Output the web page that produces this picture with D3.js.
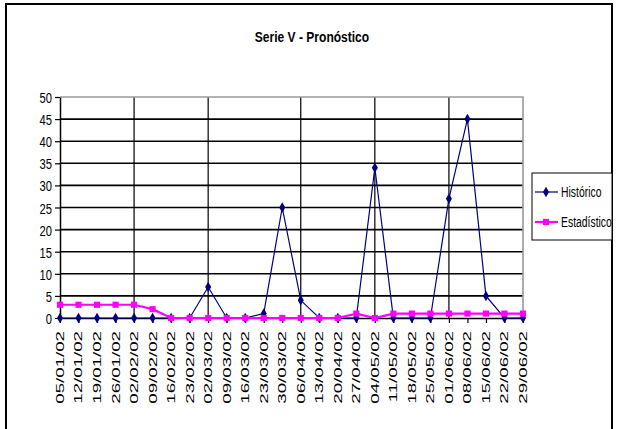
<!DOCTYPE html>
<html>
<head>
<meta charset="utf-8">
<script src="https://cdn.jsdelivr.net/npm/d3@7"></script>
<style>
  html, body { margin: 0; padding: 0; background: #fff; }
  svg { display: block; }
  text { font-family: "Liberation Sans", Arial, sans-serif; fill: #000; }
</style>
</head>
<body>
<svg id="chart" width="617" height="429"></svg>
<script>
// Weekly dates (Saturdays), first half of 2002
const categories = [
  "05/01/02", "12/01/02", "19/01/02", "26/01/02",
  "02/02/02", "09/02/02", "16/02/02", "23/02/02",
  "02/03/02", "09/03/02", "16/03/02", "23/03/02", "30/03/02",
  "06/04/02", "13/04/02", "20/04/02", "27/04/02",
  "04/05/02", "11/05/02", "18/05/02", "25/05/02",
  "01/06/02", "08/06/02", "15/06/02", "22/06/02", "29/06/02"
];

// Observed values
const historico = [
  0, 0, 0, 0,
  0, 0, 0, 0,
  7, 0, 0, 1, 25,
  4, 0, 0, 0,
  34, 0, 0, 0,
  27, 45, 5, 0, 0
];

// Statistical forecast
const estadistico = [
  3, 3, 3, 3,
  3, 2, 0, 0,
  0, 0, 0, 0, 0,
  0, 0, 0, 1,
  0, 1, 1, 1,
  1, 1, 1, 1, 1
];

const yTicks = [0, 5, 10, 15, 20, 25, 30, 35, 40, 45, 50];
const seriesNames = ["Histórico", "Estadístico"];
const seriesColors = ["#000080", "#FF00FF"];

const svg = d3.select("#chart");

// Outer frame
svg.append("rect")
  .attr("x", 6).attr("y", 4)
  .attr("width", 606).attr("height", 440)
  .attr("fill", "none").attr("stroke", "#000").attr("stroke-width", 2);

// Title
svg.append("text")
  .attr("transform", "translate(312,42) scale(0.86,1.08)")
  .attr("text-anchor", "middle")
  .attr("font-size", 14).attr("font-weight", "bold")
  .text("Serie V - Pronóstico");

const plot = { left: 60, right: 523, top: 97, bottom: 318 };

const x = d3.scalePoint().domain(categories).range([plot.left, plot.right]);
const y = d3.scaleLinear().domain([0, 50]).range([plot.bottom, plot.top]);

// Horizontal gridlines
svg.append("g")
  .selectAll("line")
  .data(yTicks.filter(v => v > 0 && v < 50))
  .join("line")
  .attr("x1", plot.left).attr("x2", plot.right)
  .attr("y1", d => y(d)).attr("y2", d => y(d))
  .attr("stroke", "#000").attr("stroke-width", 1.6);

// Vertical gridlines at the first week of each month
const monthStarts = categories.filter((c, i) => i > 0 && +c.slice(0, 2) <= 7);
svg.append("g")
  .selectAll("line")
  .data(monthStarts)
  .join("line")
  .attr("x1", d => x(d)).attr("x2", d => x(d))
  .attr("y1", plot.top).attr("y2", plot.bottom)
  .attr("stroke", "#000").attr("stroke-width", 1.2);

// Plot-area border (top and right)
svg.append("path")
  .attr("d", `M${plot.left},${plot.top}H${plot.right}V${plot.bottom}`)
  .attr("fill", "none").attr("stroke", "#9a9a9a").attr("stroke-width", 1.6);

// Y axis
const yAxis = svg.append("g")
  .attr("transform", `translate(${plot.left},0)`)
  .call(d3.axisLeft(y).tickValues(yTicks).tickSize(5).tickSizeOuter(0));
yAxis.select(".domain").attr("stroke", "#000").attr("stroke-width", 1.5);
yAxis.selectAll(".tick line").attr("stroke", "#000").attr("stroke-width", 1.2);
yAxis.selectAll(".tick text")
  .attr("x", 0).attr("dy", "0.36em")
  .attr("transform", "translate(-8,0) scale(0.8,1.1)")
  .attr("font-size", 14)
  .attr("font-family", "'Liberation Sans', Arial, sans-serif")
  .attr("fill", "#000");

// X axis
const xAxis = svg.append("g")
  .attr("transform", `translate(0,${plot.bottom})`)
  .call(d3.axisBottom(x).tickSize(5).tickSizeOuter(0).tickFormat(""));
xAxis.select(".domain").attr("stroke", "#000").attr("stroke-width", 1.5);
xAxis.selectAll(".tick line").attr("stroke", "#000").attr("stroke-width", 1.2);

// Rotated date labels
svg.append("g")
  .selectAll("text")
  .data(categories)
  .join("text")
  .attr("transform", d => `translate(${x(d)},331) rotate(-90) scale(1.7,1)`)
  .attr("text-anchor", "end")
  .attr("dy", "0.36em")
  .attr("font-size", 11)
  .text(d => d);

// Series lines and markers
const line = d3.line()
  .x((d, i) => x(categories[i]))
  .y(d => y(d));

const series = [
  { name: seriesNames[0], values: historico, color: seriesColors[0], width: 1.2,
    symbol: d3.symbol().type(d3.symbolDiamond).size(32) },
  { name: seriesNames[1], values: estadistico, color: seriesColors[1], width: 2.2,
    symbol: d3.symbol().type(d3.symbolSquare).size(38) }
];

series.forEach(s => {
  const g = svg.append("g");
  g.append("path")
    .datum(s.values)
    .attr("d", line)
    .attr("fill", "none")
    .attr("stroke", s.color)
    .attr("stroke-width", s.width);
  g.selectAll("path.marker")
    .data(s.values)
    .join("path")
    .attr("class", "marker")
    .attr("transform", (d, i) => `translate(${x(categories[i])},${y(d)})`)
    .attr("d", s.symbol())
    .attr("fill", s.color);
});

// Legend
const legend = svg.append("g");
legend.append("rect")
  .attr("x", 532).attr("y", 173)
  .attr("width", 80).attr("height", 67)
  .attr("fill", "#fff").attr("stroke", "#000").attr("stroke-width", 1);

series.forEach((s, i) => {
  const cy = 192 + i * 30;
  const item = legend.append("g").attr("transform", `translate(0,${cy})`);
  item.append("line")
    .attr("x1", 535).attr("x2", 558)
    .attr("stroke", s.color).attr("stroke-width", s.width);
  item.append("path")
    .attr("transform", "translate(546,0)")
    .attr("d", s.symbol())
    .attr("fill", s.color);
  item.append("text")
    .attr("transform", "translate(561,0) scale(0.8,1.1)")
    .attr("dy", "0.36em")
    .attr("font-size", 13)
    .text(s.name);
});
</script>
</body>
</html>
